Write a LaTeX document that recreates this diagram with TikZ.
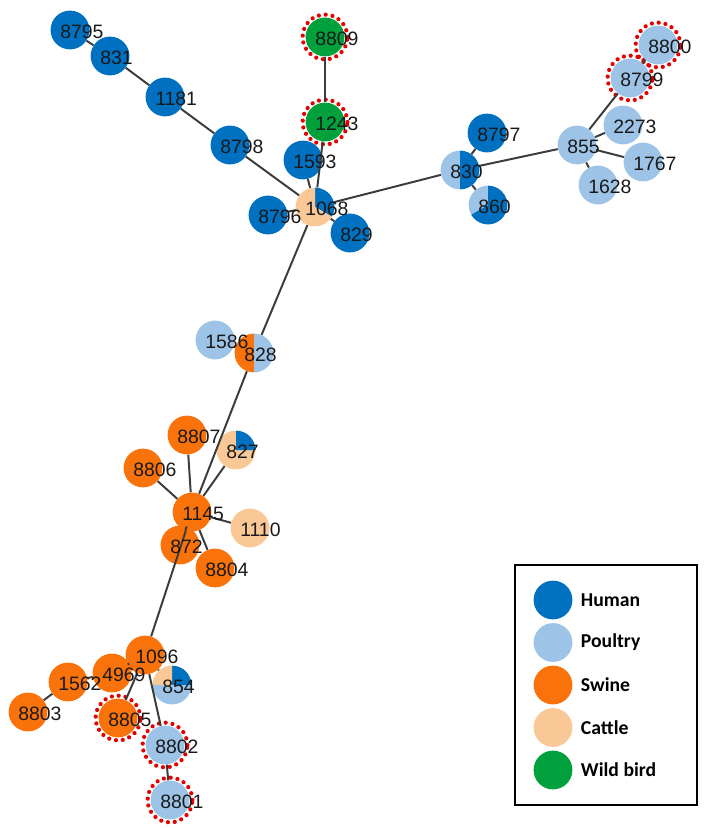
\documentclass[tikz,border=0pt]{standalone}
\usepackage{fontspec}
\setmainfont{Liberation Sans}
\newfontfamily\legfont{Carlito}
\usepackage{tikz}
\usetikzlibrary{positioning}
\definecolor{humblue} {RGB}{0,112,192}
\definecolor{poublue} {RGB}{157,195,230}
\definecolor{swiorange}{RGB}{250,115,10}
\definecolor{catpeach}{RGB}{250,200,150}
\definecolor{wbdgreen}{RGB}{0,160,60}
\definecolor{edgegray}{RGB}{60,60,60}
\definecolor{lbltext}{RGB}{25,25,25}
\tikzset{
  st/.style    ={circle, minimum size=0.97cm, inner sep=0pt},
  hum/.style   ={st, fill=humblue},
  pou/.style   ={st, fill=poublue},
  swi/.style   ={st, fill=swiorange},
  cat/.style   ={st, fill=catpeach},
  wbd/.style   ={st, fill=wbdgreen},
  mix/.style   ={st},
  ring/.style  ={draw=red!90!black, line width=3pt, line cap=round,
                 dash pattern=on 0pt off 4.9pt},
  lnk/.style   ={draw=edgegray, line width=1.4pt},
  lbl/.style   ={anchor=west, inner sep=0pt, text=lbltext,
                 font=\fontsize{13.8}{16}\selectfont},
  legtxt/.style={anchor=west, inner sep=0pt, font=\legfont\bfseries\fontsize{14}{16}\selectfont},
}
% sector of a mixed node: node, start, end, colour
\newcommand{\pieslice}[4]{\fill[#4] (#1.center) -- ++(#2:0.485cm)
  arc[start angle=#2, end angle=#3, radius=0.485cm] -- cycle;}
\newcommand{\redring}[1]{\draw[ring] (#1.center) circle[radius=0.56cm];}

\begin{document}
\begin{tikzpicture}[x=0.025cm, y=-0.025cm]
  \useasboundingbox (0,0) rectangle (714,828);
  % upper branch
  \node[hum] (n8795) at (70,30)  {};
  \node[hum] (n831)  at (110,56) {};
  \node[hum] (n1181) at (165,97) {};
  \node[hum] (n8798) at (230,145) {};
  \node[wbd] (n8809) at (325,37) {};
  \node[wbd] (n1243) at (325,122) {};
  \node[hum] (n1593) at (303,160) {};
  \node[hum] (n8796) at (268,215) {};
  \node[hum] (n829)  at (350,233) {};
  \node[mix] (n1068) at (315,207) {};
  \pieslice{n1068}{-30}{90}{humblue}
  \pieslice{n1068}{90}{330}{catpeach}
  % right branch
  \node[hum] (n8797) at (487,133) {};
  \node[mix] (n860)  at (488,205) {};
  \pieslice{n860}{90}{210}{poublue}
  \pieslice{n860}{210}{450}{humblue}
  \node[mix] (n830)  at (460,170) {};
  \pieslice{n830}{90}{270}{poublue}
  \pieslice{n830}{-90}{90}{humblue}
  \node[pou] (n855)  at (577,145) {};
  \node[pou] (n2273) at (623,125) {};
  \node[pou] (n1767) at (643,162) {};
  \node[pou] (n1628) at (598,185) {};
  \node[pou] (n8799) at (630,78) {};
  \node[pou] (n8800) at (658,45) {};
  % middle
  \node[pou] (n1586) at (215,340) {};
  \node[mix] (n828)  at (254,353) {};
  \pieslice{n828}{90}{270}{swiorange}
  \pieslice{n828}{-90}{90}{poublue}
  \node[swi] (n8807) at (187,435) {};
  \node[mix] (n827)  at (236,450) {};
  \pieslice{n827}{90}{360}{catpeach}
  \pieslice{n827}{0}{90}{humblue}
  \node[swi] (n8806) at (143,468) {};
  \node[swi] (n1145) at (192,512) {};
  \node[cat] (n1110) at (250,528) {};
  \node[swi] (n872)  at (180,545) {};
  \node[swi] (n8804) at (215,568) {};
  % lower branch
  \node[swi] (n1562) at (68,682) {};
  \node[swi] (n8803) at (28,712) {};
  \node[swi] (n4969) at (112,673) {};
  \node[swi] (n1096) at (145,655) {};
  \node[mix] (n854)  at (172,685) {};
  \pieslice{n854}{0}{90}{humblue}
  \pieslice{n854}{90}{180}{catpeach}
  \pieslice{n854}{180}{360}{poublue}
  \node[swi] (n8805) at (118,718) {};
  \node[pou] (n8802) at (165,745) {};
  \node[pou] (n8801) at (170,800) {};

  \foreach \n in {8809,1243,8799,8800,8805,8802,8801}{
    \redring{n\n}
  }

  \foreach \a/\b in {8795/831,831/1181,1181/8798,8798/1068,8809/1243,1243/1068,
                     1593/1068,8796/1068,829/1068,1068/830,830/8797,830/860,
                     830/855,855/8799,8799/8800,855/2273,855/1767,855/1628,
                     1068/828,828/1586,828/1145,1145/8807,1145/827,1145/8806,
                     1145/1110,1145/872,1145/8804,1145/1096,1096/4969,
                     4969/1562,1562/8803,1096/854,1096/8805,1096/8802,8802/8801}
    \draw[lnk] (n\a) -- (n\b);

  \foreach \n in {8795,831,1181,8798,8809,1243,1593,8796,829,1068,8797,860,830,
                  855,2273,1767,1628,8799,8800,1586,828,8807,827,8806,1145,1110,
                  872,8804,1562,8803,4969,1096,854,8805,8802,8801}
    \node[lbl] at ([xshift=-0.25cm,yshift=-0.05cm]n\n.center) {\n};

  % legend
  \draw[line width=1.5pt] (515,565) rectangle (697,805);
  \foreach \c/\t [count=\i from 0] in {humblue/Human,poublue/Poultry,
                                        swiorange/Swine,catpeach/Cattle,
                                        wbdgreen/Wild bird}{
    \node[st, fill=\c] (leg\i) at (553,600+42.5*\i) {};
    \node[legtxt, right=0.2cm of leg\i] {\t};
  }
\end{tikzpicture}
\end{document}
